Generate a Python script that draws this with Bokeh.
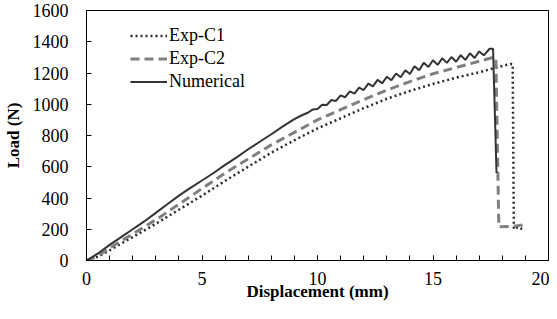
from bokeh.plotting import figure
from bokeh.models import Range1d, SingleIntervalTicker, Legend, LegendItem
from bokeh.embed import file_html
from bokeh.resources import INLINE

# Exp-C1 (dotted)
c1_x = [0, 0.5, 1, 2, 3, 4, 5, 6, 7, 8, 9, 10, 11, 12, 13, 14, 15, 16, 17, 17.5, 18.0, 18.35, 18.45, 18.5, 18.7, 18.8, 19.0]
c1_y = [0, 25, 65, 150, 235, 325, 415, 510, 600, 690, 770, 845, 910, 975, 1035, 1085, 1130, 1170, 1205, 1225, 1245, 1258, 1255, 200, 215, 205, 200]

# Exp-C2 (dashed)
c2_x = [0, 0.5, 1, 2, 3, 4, 5, 6, 7, 8, 9, 10, 11, 12, 13, 14, 15, 16, 17, 17.6, 17.72, 17.85, 18.5, 19.0]
c2_y = [0, 30, 80, 170, 260, 360, 460, 560, 650, 740, 820, 900, 965, 1030, 1090, 1145, 1195, 1235, 1275, 1300, 1295, 215, 220, 230]

# Numerical (solid)
num_x = [0, 0.5, 1, 1.5, 2, 2.5, 3, 3.5, 4, 4.5, 5, 5.5, 6, 6.5, 7, 7.5, 8, 8.5, 9, 9.3, 9.6,
         9.8, 10.0, 10.2, 10.4, 10.6, 10.8, 11.0, 11.2, 11.4, 11.6, 11.8, 12.0, 12.2, 12.4,
         12.6, 12.8, 13.0, 13.2, 13.4, 13.6, 13.8, 14.0, 14.2, 14.4, 14.6, 14.8, 15.0, 15.2,
         15.4, 15.6, 15.8, 16.0, 16.2, 16.4, 16.6, 16.8, 17.0, 17.2, 17.45, 17.6, 17.75]
num_y = [0, 45, 100, 150, 200, 250, 305, 360, 415, 465, 512, 560, 612, 660, 712, 760, 808, 858, 905, 928, 947,
         967, 969, 997, 995, 1027, 1021, 1057, 1045, 1082, 1068, 1107, 1091, 1132, 1114,
         1156, 1134, 1176, 1154, 1197, 1173, 1217, 1193, 1243, 1218, 1265, 1238, 1282, 1252,
         1294, 1265, 1302, 1272, 1314, 1284, 1326, 1296, 1338, 1313, 1355, 1355, 560]

x_ticks_interval = 5
y_ticks_interval = 200
x_title = "Displacement (mm)"
y_title = "Load (N)"

FONT = "serif"

p = figure(width=549, height=303, output_backend="svg", toolbar_location=None,
           x_range=Range1d(0, 20), y_range=Range1d(0, 1600),
           min_border_left=83, min_border_right=1, min_border_top=10, min_border_bottom=43)

p.xgrid.visible = False
p.ygrid.visible = False
p.outline_line_color = "black"
p.outline_line_width = 1
p.background_fill_color = "white"
p.border_fill_color = "white"

r1 = p.line(c1_x, c1_y, line_color="#2b2b2b", line_width=2.5, line_dash="2 3")
r2 = p.line(c2_x, c2_y, line_color="#808080", line_width=3, line_dash="9 5")
r3 = p.line(num_x, num_y, line_color="#333333", line_width=2)

p.xaxis.ticker = SingleIntervalTicker(interval=x_ticks_interval, num_minor_ticks=5)
p.yaxis.ticker = SingleIntervalTicker(interval=y_ticks_interval, num_minor_ticks=0)

for ax in (p.xaxis[0], p.yaxis[0]):
    ax.axis_line_color = "black"
    ax.major_tick_line_color = "black"
    ax.minor_tick_line_color = "black"
    ax.major_tick_in = 5
    ax.major_tick_out = 0
    ax.minor_tick_in = 5
    ax.minor_tick_out = 0
    ax.major_label_text_font = FONT
    ax.major_label_text_font_size = "18px"
    ax.major_label_text_color = "black"
    ax.major_label_text_line_height = 1.0
    ax.axis_label_text_font = "Liberation Serif"
    ax.axis_label_text_font_size = "17px"
    ax.axis_label_text_font_style = "bold"
    ax.axis_label_text_color = "black"
    ax.axis_label_text_line_height = 1.0

p.xaxis.axis_label = x_title
p.yaxis.axis_label = y_title
p.xaxis.major_label_standoff = 11
p.xaxis.axis_label_standoff = -6
p.yaxis.major_label_standoff = 18
p.yaxis.axis_label_standoff = 7

legend = Legend(items=[
    LegendItem(label="Exp-C1", renderers=[r1]),
    LegendItem(label="Exp-C2", renderers=[r2]),
    LegendItem(label="Numerical", renderers=[r3]),
], location=(44, 167), border_line_color=None, background_fill_alpha=0,
   padding=0, margin=0, spacing=0, glyph_width=37, glyph_height=23,
   label_height=23, label_standoff=2, label_text_font=FONT,
   label_text_font_size="18px", label_text_color="black")
p.add_layout(legend, "center")

open("out.html", "w").write(file_html(p, INLINE))
